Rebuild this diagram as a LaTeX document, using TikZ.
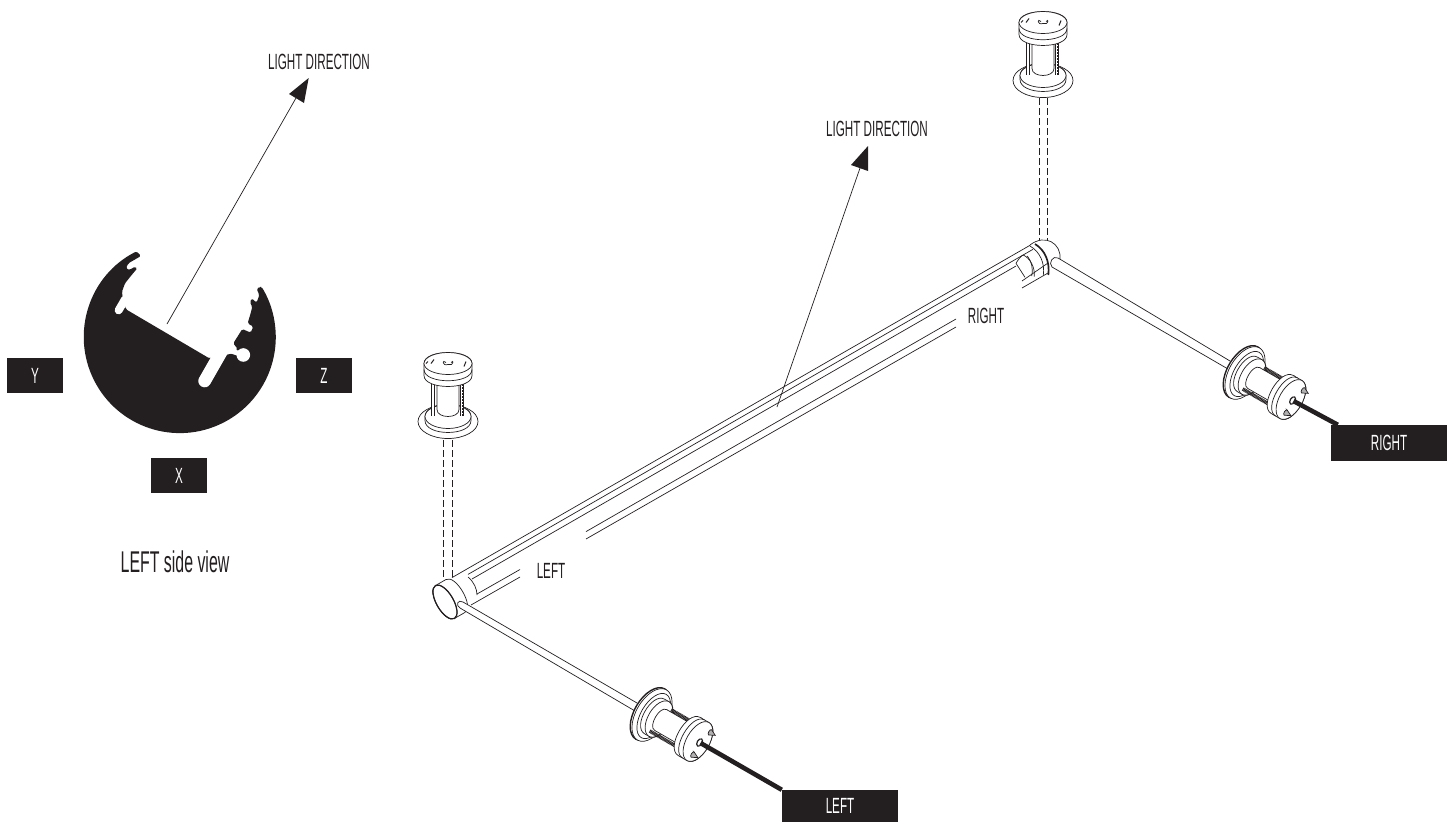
\documentclass[tikz,border=0pt]{standalone}
\usepackage{fontspec}
\setmainfont[FakeStretch=0.53]{Liberation Sans}
\definecolor{ink}{HTML}{231F20}
\newcommand{\cylpart}[4]{\draw[part] (#1,-#4) -- (#2,-#4) .. controls (#2+1.33*#3,-#4) and (#2+1.33*#3,#4) .. (#2,#4) -- (#1,#4) .. controls (#1-1.33*#3,#4) and (#1-1.33*#3,-#4) .. cycle; \draw[part] (#2,0) ellipse [x radius=#3,y radius=#4];}
\newcommand{\pinpart}[2]{\draw[part,fill=ink!35] (#1,#2-3) -- (#1+6,#2) -- (#1,#2+3) .. controls (#1-2,#2+3) and (#1-2,#2-3) .. cycle;}
\tikzset{
    part/.style={draw=ink,fill=white,line width=.7pt},
    edge/.style={draw=ink,line width=.7pt},
    rod/.style={draw=ink,line width=3.6pt,dash pattern=on .9pt off .5pt},
    post/.style={draw=ink,line width=.7pt,double=white,double distance=2.6pt},
    hidden/.style={draw=ink,line width=.7pt,dash pattern=on 6.5pt off 3.5pt},
    wire/.style={draw=ink,line width=4.6pt},
    tag/.style={fill=ink,text=white,font=\fontsize{22}{22}\selectfont,inner sep=0pt},
    label/.style={text=ink,font=\fontsize{22}{22}\selectfont,inner sep=0pt},
    standoff/.pic={
        \draw[part] (0,0) ellipse [x radius=17,y radius=30];
        \cylpart{1}{5}{12}{23}
        \cylpart{12}{47}{7}{11}
        \draw[post] (6,-15) -- (46,-15) (6,14) -- (46,14);
        \draw[edge,dash pattern=on 2pt off 1pt,line width=1pt] (6,14) -- (46,14);
        \cylpart{46}{58}{11}{24}
        \draw[edge] (52,-24) .. controls (37,-24) and (37,24) .. (52,24);
        \draw[edge] (59,-2) .. controls (63,-6) and (55,-6) .. (57,0) .. controls (55,6) and (63,6) .. (59,3);
        \draw[edge,line width=1pt] (62,-14) -- (58,-17) (60,-20) -- (58,-22) (55,16) -- (60,18);
    },
    connector/.pic={
        \draw[part,line width=1.4pt] (-2,0) ellipse [x radius=16,y radius=29];
        \draw[part] (0,0) ellipse [x radius=16,y radius=29];
        \draw[edge] (2,0) ellipse [x radius=13,y radius=25];
        \cylpart{3}{8}{11}{20}
        \cylpart{10}{38}{6}{12}
        \draw[rod] (14,-14) -- (40,-14) (6,15) -- (37,15);
        \cylpart{43}{53}{11.5}{22}
        \draw[edge] (48,-22) .. controls (33,-22) and (33,22) .. (48,22);
        \pinpart{55}{14}
        \pinpart{59}{-14}
        \draw[part,line width=1.2pt] (55,0) ellipse [x radius=2.5,y radius=4];
        \coordinate (-pin) at (56,0);
    }
}
\begin{document}
\begin{tikzpicture}[x=1pt,y=-1pt]
\useasboundingbox (0,0) rectangle (1453,822);

% side view
\begin{scope}[shift={(0,180)},x=.3333pt,y=-.3333pt]
\fill[ink,rounded corners=1.5pt] (780,321) -- (770,326) -- (778,345) -- (770,368) -- (755,355) -- (750,368) -- (757,380) -- (752,400) -- (743,430) -- (760,440) -- (752,458) -- (727,447) -- (700,490) -- (713,507) -- (700,520) -- (628,535) -- (378,388) -- (368,352) -- (366,335) -- (375,310) -- (395,285) -- (412,265) -- (405,260) -- (388,270) -- (378,265) -- (385,250) -- (423,228) -- (410,214) arc [start angle=116.7,end angle=391.5,radius=96pt] -- cycle;
\draw[white,line width=12.7pt,line cap=round] (614,603) -- (670,505);
\draw[white,line width=5pt] (670,505) -- (730,525);
\fill[white] (730,525) circle [radius=6.8pt];
\draw[white,line width=8pt,line cap=round] (356,391) -- (375,358);
\end{scope}
\node[tag,minimum width=56pt,minimum height=35pt] (boxY) at (35,375.5) {Y};
\node[tag,minimum width=56pt,minimum height=35pt] (boxZ) at (324,375.5) {Z};
\node[tag,minimum width=56pt,minimum height=35pt] (boxX) at (179,475.5) {X};
\node[label,font=\fontsize{30}{30}\selectfont] (sideview) at (175,562) {LEFT side view};

% light arrows
\node[label] (lightA) at (319,62) {LIGHT DIRECTION};
\node[label] (lightB) at (877,129) {LIGHT DIRECTION};
\coordinate (footA) at (167,324);
\coordinate (neckA) at (296,98);
\coordinate (tipA) at (308.7,78);
\coordinate (footB) at (777,407);
\coordinate (neckB) at (860,168);
\coordinate (tipB) at (868,146);
\draw[edge] (footA) -- (neckA);
\draw[edge] (footB) -- (neckB);
\fill[ink] (tipA) -- (289,94) -- (304,103) -- cycle;
\fill[ink] (tipB) -- (851,165) -- (868,171) -- cycle;

% tube
\draw[edge] (452,577.6) -- (1030,245.3);
\draw[edge] (468,574.4) -- (1033,249.3);
\draw[edge] (472,579) -- (1016,266);
\draw[edge] (477,594) -- (520,569.5) (586,531.6) -- (956,319) (1022,281) -- (1048,263);
\draw[edge] (471,605) -- (520,577) (586,539) -- (956,327) (1022,288) -- (1048,273);

% left end
\begin{scope}[shift={(445,602)},rotate=210]
\cylpart{-12}{0}{8.5}{19}
\draw[edge,line width=1.2pt] (0,0) ellipse [x radius=8.5,y radius=19];
\end{scope}
\draw[edge] (468,577) .. controls (474,582) and (477,589) .. (477,595);

% right end
\begin{scope}[shift={(980,220)},x=.3333pt,y=-.3333pt]
\draw[edge] (150,75) .. controls (195,40) and (245,70) .. (240,118);
\draw[edge] (150,78) .. controls (180,95) and (195,130) .. (190,165);
\draw[edge,line width=1.7pt] (165,72) .. controls (195,90) and (210,125) .. (205,165);
\draw[edge] (108,130) -- (135,172);
\draw[edge] (108,130) .. controls (115,118) and (122,108) .. (130,105) .. controls (150,115) and (165,140) .. (163,170);
\draw[edge] (142,108) .. controls (155,125) and (160,145) .. (155,168);
\end{scope}

% rods
\draw[part] (637,703) -- (463,602) .. controls (458,599) and (455,605) .. (460,608) -- (635,711);
\draw[part] (1230,361) -- (1058,258) .. controls (1053,255) and (1048,263) .. (1052,267) -- (1228,369);

% fixtures
\draw[hidden] (443,440) -- (443,580) (452,440) -- (452,580);
\draw[hidden] (1039,98) -- (1039,240) (1047,98) -- (1047,240);
\pic (standL) at (448,421.5) [rotate=90] {standoff};
\pic (standR) at (1043,80.5) [rotate=90] {standoff};
\pic (connL) at (652,715) [rotate=-30] {connector};
\pic (connR) at (1245,373) [rotate=-30] {connector};

% boxes and wires
\node[tag,minimum width=116pt,minimum height=32pt] (boxL) at (840,806) {LEFT};
\node[tag,minimum width=116pt,minimum height=36pt] (boxR) at (1389,443) {RIGHT};
\draw[wire] (connL-pin) -- (boxL.north west);
\draw[wire] (connR-pin) -- ([xshift=7pt]boxR.north west);

\node[label] (tubeL) at (551,571) {LEFT};
\node[label] (tubeR) at (986,316) {RIGHT};

\end{tikzpicture}
\end{document}
